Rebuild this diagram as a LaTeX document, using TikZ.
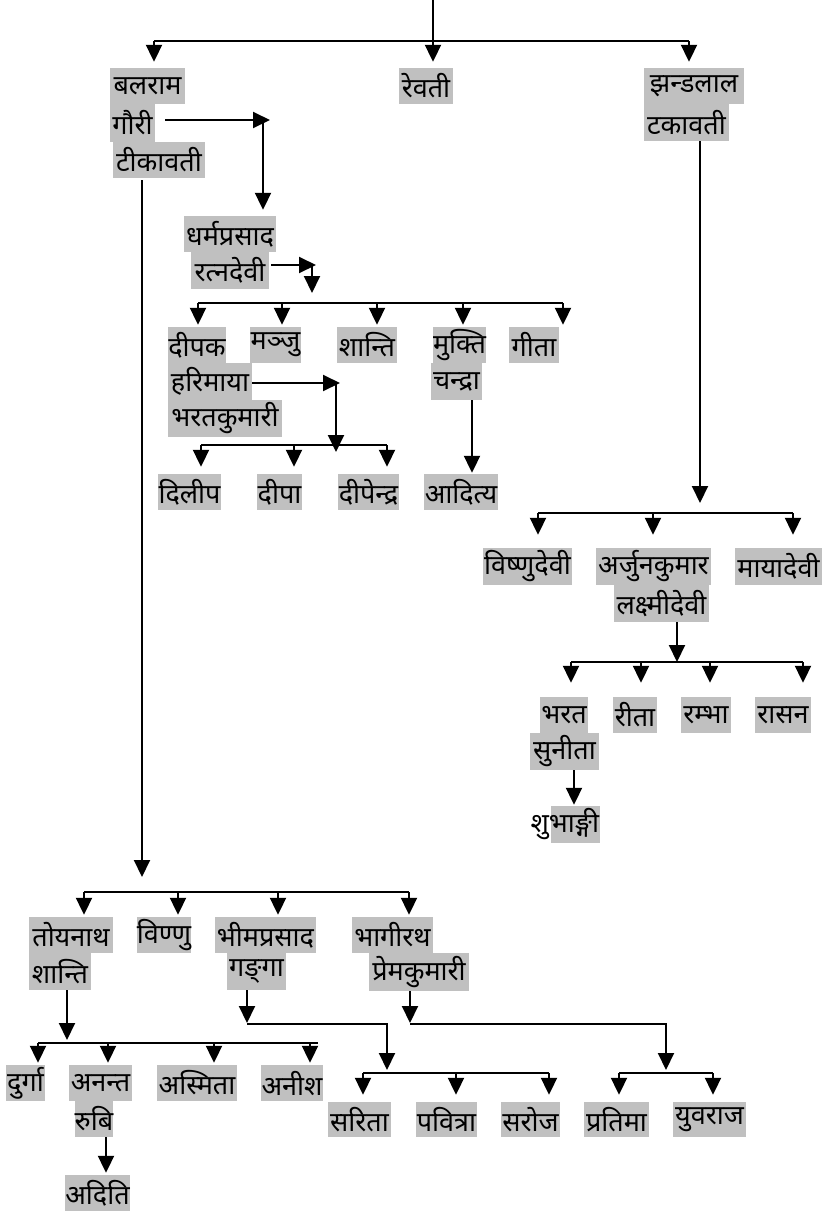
\documentclass[tikz,border=0pt]{standalone}
\usepackage{fontspec}
\newfontfamily\dev[Script=Devanagari]{Noto Sans}
\usetikzlibrary{arrows.meta}
\definecolor{boxgray}{RGB}{192,192,192}
\newcommand\pn[6]{\node[pbox, minimum width={(#4-#2)*1pt}, minimum height={(#5-#3)*1pt}] (#1) at ({(#2+#4)/2},{(#3+#5)/2}) {#6};}
\newcommand\kid[5]{\coordinate (#1) at (#2,#3); \draw[arr, shorten >=#5pt] (#1) -- (#1 |- #4.north);}
\begin{document}
\begin{tikzpicture}[x=1pt,y=-1pt,
  pbox/.style={fill=boxgray, inner sep=0pt, text=black, font=\dev\fontsize{27}{30}\selectfont},
  ptext/.style={inner sep=0pt, text=black, font=\dev\fontsize{27}{30}\selectfont},
  line/.style={line width=2pt},
  arr/.style={line width=2pt, -{Triangle[length=17pt,width=16pt]}}]
\useasboundingbox (0,0) rectangle (830,1211);
\fill[white] (0,0) rectangle (830,1211);
% nodes
\pn{balram}{110}{68}{185}{104}{बलराम}
\pn{gauri}{110}{104}{155}{142}{गौरी}
\pn{tika}{113}{142}{205}{178}{टीकावती}
\pn{revati}{399}{68}{453}{104}{रेवती}
\pn{jhandu}{644}{68}{744}{104}{झन्डलाल}
\pn{takavati}{644}{104}{729}{141}{टकावती}
\pn{dharma}{184}{216}{276}{252}{धर्मप्रसाद}
\pn{ratna}{191}{252}{269}{289}{रत्नदेवी}
\pn{dipak}{168}{327}{226}{363}{दीपक}
\pn{manju}{250}{327}{301}{363}{मञ्जु}
\pn{shanti}{337}{327}{397}{363}{शान्ति}
\pn{mukti}{434}{327}{485}{363}{मुक्ति}
\pn{gita}{509}{327}{559}{363}{गीता}
\pn{harimaya}{168}{363}{252}{400}{हरिमाया}
\pn{bharatk}{168}{400}{282}{437}{भरतकुमारी}
\pn{chandra}{431}{363}{482}{400}{चन्द्रा}
\pn{dilip}{158}{474}{221}{510}{दिलीप}
\pn{dipa}{257}{474}{302}{510}{दीपा}
\pn{dipendra}{338}{474}{399}{510}{दीपेन्द्र}
\pn{aditya}{424}{474}{498}{510}{आदित्य}
\pn{vishnudevi}{483}{548}{572}{585}{विष्णुदेवी}
\pn{arjun}{596}{548}{711}{585}{अर्जुनकुमार}
\pn{mayadevi}{735}{548}{822}{585}{मायादेवी}
\pn{lakshmi}{614}{585}{709}{622}{लक्ष्मीदेवी}
\pn{bharat}{540}{697}{588}{733}{भरत}
\pn{rita}{613}{697}{657}{733}{रीता}
\pn{rambha}{681}{697}{731}{733}{रम्भा}
\pn{rasan}{755}{697}{811}{733}{रासन}
\pn{sunita}{530}{733}{599}{770}{सुनीता}
\pn{shubhbg}{551}{806}{600}{843}{}
\node[ptext, anchor=east] (shubh) at ([xshift=-1pt]shubhbg.east) {शुभाङ्गी};
\pn{toyanath}{29}{917}{113}{953}{तोयनाथ}
\pn{shanti2}{29}{953}{91}{990}{शान्ति}
\pn{vinnu}{137}{917}{191}{953}{विण्णु}
\pn{bhim}{215}{917}{316}{953}{भीमप्रसाद}
\pn{ganga}{227}{953}{286}{990}{गङ्^^^^200cगा}
\pn{bhagirath}{352}{917}{433}{953}{भागीरथ}
\pn{prem}{369}{953}{469}{991}{प्रेमकुमारी}
\pn{durga}{6}{1065}{45}{1101}{दुर्गा}
\pn{anant}{69}{1065}{132}{1101}{अनन्त}
\pn{asmita}{157}{1065}{237}{1101}{अस्मिता}
\pn{anish}{261}{1065}{323}{1101}{अनीश}
\pn{rubi}{75}{1101}{113}{1137}{रुबि}
\pn{aditi}{66}{1175}{129}{1211}{अदिति}
\pn{sarita}{328}{1102}{391}{1137}{सरिता}
\pn{pavitra}{416}{1102}{477}{1137}{पवित्रा}
\pn{saroj}{501}{1102}{560}{1137}{सरोज}
\pn{pratima}{584}{1102}{649}{1137}{प्रतिमा}
\pn{yuvraj}{673}{1102}{746}{1137}{युवराज}
% ---- bus 0 (top)
\coordinate (top) at (433,0);
\coordinate (b0l) at (154,41);
\coordinate (b0r) at (689,41);
\draw[line] (b0l) -- (b0r);
\draw[arr, shorten >=6pt] (top) -- (top |- revati.north);
\kid{k-balram}{154}{41}{balram}{6}
\kid{k-jhandu}{689}{41}{jhandu}{6}
% gauri -> dharma
\coordinate (g1) at (270,120);
\coordinate (g2) at (263,121);
\draw[arr] (gauri.east |- g1) ++(10,0) -- (g1);
\draw[arr, shorten >=6pt] (g2) -- (g2 |- dharma.north);
% ratna -> bus 1
\coordinate (r1) at (316,265);
\coordinate (r2) at (312,266);
\coordinate (r3) at (312,293);
\draw[arr] (ratna.east |- r1) ++(2,0) -- (r1);
\draw[arr] (r2) -- (r3);
\coordinate (b1l) at (198,303);
\coordinate (b1r) at (563,303);
\draw[line] (b1l) -- (b1r);
\kid{k-dipak}{198}{303}{dipak}{2}
\kid{k-manju}{282}{303}{manju}{2}
\kid{k-shanti}{377}{303}{shanti}{2}
\kid{k-mukti}{463}{303}{mukti}{2}
\kid{k-gita}{563}{303}{gita}{2}
% harimaya -> bus 2
\coordinate (h1) at (340,383);
\coordinate (h2) at (336,384);
\coordinate (h3) at (336,452);
\draw[arr] (harimaya.east |- h1) -- (h1);
\draw[arr] (h2) -- (h3);
\coordinate (b2l) at (201,445);
\coordinate (b2r) at (387,445);
\draw[line] (b2l) -- (b2r);
\kid{k-dilip}{201}{445}{dilip}{7}
\kid{k-dipa}{294}{445}{dipa}{7}
\kid{k-dipendra}{387}{445}{dipendra}{7}
% chandra -> aditya
\coordinate (c1) at (472,400);
\draw[arr, shorten >=1pt] (c1) -- (c1 |- aditya.north);
% takavati -> bus 3
\coordinate (t1) at (700,141);
\coordinate (t2) at (700,503);
\draw[arr] (t1) -- (t2);
\coordinate (b3l) at (538,513);
\coordinate (b3r) at (793,513);
\draw[line] (b3l) -- (b3r);
\kid{k-vishnu}{538}{513}{vishnudevi}{13}
\kid{k-arjun}{653}{513}{arjun}{13}
\kid{k-maya}{793}{513}{mayadevi}{13}
% lakshmi -> bus 4
\coordinate (l1) at (677,622);
\coordinate (l2) at (677,662);
\draw[arr] (l1) -- (l2);
\coordinate (b4l) at (571,662);
\coordinate (b4r) at (803,662);
\draw[line] (b4l) -- (b4r);
\kid{k-bharat}{571}{662}{bharat}{14}
\kid{k-rita}{641}{662}{rita}{14}
\kid{k-rambha}{710}{662}{rambha}{14}
\kid{k-rasan}{803}{662}{rasan}{14}
% sunita -> shubh
\coordinate (s1) at (574,770);
\draw[arr, shorten >=1pt] (s1) -- (s1 |- shubhbg.north);
% tika -> bus 5
\coordinate (d1) at (142,180);
\coordinate (d2) at (142,877);
\draw[arr] (d1) -- (d2);
\coordinate (b5l) at (84,892);
\coordinate (b5r) at (409,892);
\draw[line] (b5l) -- (b5r);
\kid{k-toya}{84}{892}{toyanath}{2}
\kid{k-vinnu}{178}{892}{vinnu}{2}
\kid{k-bhim}{278}{892}{bhim}{2}
\kid{k-bhag}{409}{892}{bhagirath}{2}
% shanti2 -> bus 6
\coordinate (e1) at (67,990);
\coordinate (e2) at (67,1040);
\draw[arr] (e1) -- (e2);
\coordinate (b6l) at (38,1043);
\coordinate (b6r) at (318,1043);
\draw[line] (b6l) -- (b6r);
\kid{k-durga}{38}{1043}{durga}{2}
\kid{k-anant}{108}{1043}{anant}{2}
\kid{k-asmita}{214}{1043}{asmita}{2}
\kid{k-anish}{310}{1043}{anish}{2}
% rubi -> aditi
\coordinate (u1) at (106,1137);
\draw[arr, shorten >=2pt] (u1) -- (u1 |- aditi.north);
% ganga -> bus 7
\coordinate (f1) at (247,990);
\coordinate (f2) at (247,1023);
\coordinate (f3) at (247,1024);
\coordinate (f4) at (387,1024);
\coordinate (f5) at (387,1070);
\draw[arr] (f1) -- (f2);
\draw[arr] (f3) -- (f4) -- (f5);
\coordinate (b7l) at (363,1073);
\coordinate (b7r) at (549,1073);
\draw[line] (b7l) -- (b7r);
\kid{k-sarita}{363}{1073}{sarita}{7}
\kid{k-pavitra}{456}{1073}{pavitra}{7}
\kid{k-saroj}{549}{1073}{saroj}{7}
% prem -> bus 8
\coordinate (m1) at (410,991);
\coordinate (m2) at (410,1023);
\coordinate (m3) at (410,1024);
\coordinate (m4) at (666,1024);
\coordinate (m5) at (666,1070);
\draw[arr] (m1) -- (m2);
\draw[arr] (m3) -- (m4) -- (m5);
\coordinate (b8l) at (619,1073);
\coordinate (b8r) at (713,1073);
\draw[line] (b8l) -- (b8r);
\kid{k-pratima}{619}{1073}{pratima}{7}
\kid{k-yuvraj}{713}{1073}{yuvraj}{7}
\end{tikzpicture}
\end{document}
